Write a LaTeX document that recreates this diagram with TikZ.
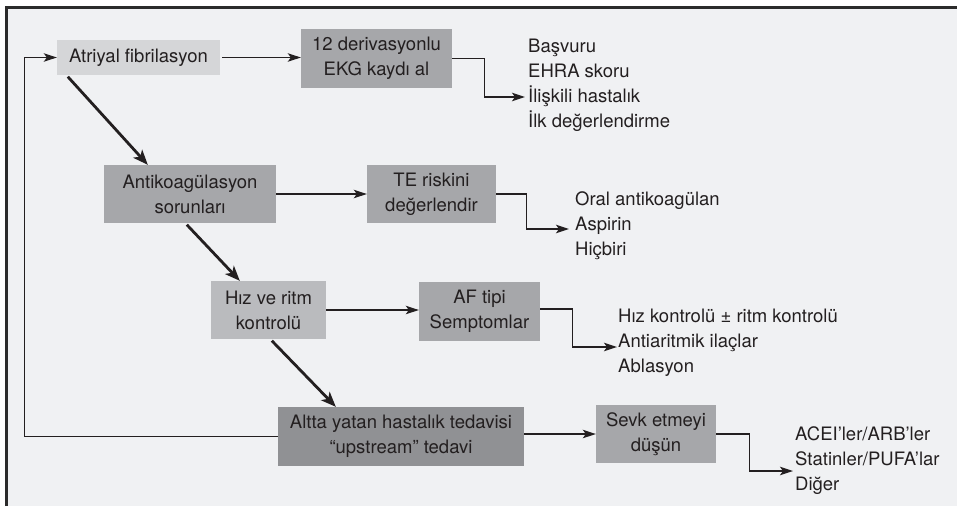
\documentclass[tikz,border=0pt]{standalone}
\usepackage{fontspec}
\setmainfont{TeX Gyre Heros}
\usetikzlibrary{arrows.meta,calc}

\definecolor{panel}{HTML}{F0F1F3}
\definecolor{frameline}{HTML}{2B2B2B}
\definecolor{ink}{HTML}{231F20}
\definecolor{boxlight}{HTML}{D5D6D8}
\definecolor{boxmid}{HTML}{BABBBE}
\definecolor{boxgray}{HTML}{A6A7AA}
\definecolor{boxdark}{HTML}{909194}

\begin{document}
\begin{tikzpicture}[x=1pt,y=-1pt,
  every node/.style={font=\fontsize{18.5}{25}\selectfont, text=ink},
  box/.style={fill=#1, inner sep=0pt, align=center, anchor=center},
  list/.style={inner sep=0pt, align=left, anchor=west},
  flow/.style={draw=ink, line width=1.3pt, -{Stealth[length=13pt,width=8.5pt,inset=3pt]}},
  mainflow/.style={draw=ink, line width=2.8pt, -{Stealth[length=15pt,width=12pt,inset=4pt]}},
]
% page and panel
\useasboundingbox (0,0) rectangle (957,506);
\fill[white] (0,0) rectangle (957,506);
\fill[panel] (6.5,7.3) rectangle (957,506);
\draw[frameline, line width=2.7pt] (6.5,506) -- (6.5,7.3) -- (957,7.3);

% boxes
\node[box=boxlight, minimum width=163pt, minimum height=35pt] (af) at (138.5,57.5) {Atriyal fibrilasyon};
\node[box=boxgray, minimum width=151pt, minimum height=59pt] (ekg) at (376.5,58.5) {12 derivasyonlu\\EKG kaydı al};
\node[box=boxgray, minimum width=172pt, minimum height=58pt] (anti) at (190,194) {Antikoagülasyon\\sorunları};
\node[box=boxgray, minimum width=129pt, minimum height=58pt] (te) at (431.5,194) {TE riskini\\değerlendir};
\node[box=boxmid, minimum width=115pt, minimum height=58pt] (hiz) at (268.5,310) {Hız ve ritm\\kontrolü};
\node[box=boxgray, minimum width=121pt, minimum height=59pt] (aftip) at (479.5,311.5) {AF tipi\\Semptomlar};
\node[box=boxdark, minimum width=246pt, minimum height=59pt] (altta) at (401,436.5) {Altta yatan hastalık tedavisi\\“upstream” tedavi};
\node[box=boxgray, minimum width=120pt, minimum height=58pt] (sevk) at (656,434) {Sevk etmeyi\\düşün};

% option lists
\node[list] (list1) at (528,85.5) {Başvuru\\EHRA skoru\\İlişkili hastalık\\İlk değerlendirme};
\node[list] (list2) at (575,225.5) {Oral antikoagülan\\Aspirin\\Hiçbiri};
\node[list] (list3) at (618,343) {Hız kontrolü ± ritm kontrolü\\Antiaritmik ilaçlar\\Ablasyon};
\node[list] (list4) at (795,461) {ACEI’ler/ARB’ler\\Statinler/PUFA’lar\\Diğer};

\coordinate (l1in) at (525,97);
\coordinate (l2in) at (569,229);
\coordinate (l3in) at (617,347);
\coordinate (l4in) at (793,471);

% horizontal steps
\draw[flow] ($(af.east)+(2,0)$) -- (af.east -| ekg.west);
\draw[flow] (ekg.east) -- ++(32,0) |- (l1in);
\draw[flow] (anti.east) -- (te.west);
\draw[flow] (te.east) -- ++(30,0) |- (l2in);
\draw[flow] (hiz.east) -- (hiz.east -| aftip.west);
\draw[flow] ($(aftip.east)+(0,-2.5)$) -- ++(32,0) |- (l3in);
\draw[flow] (sevk.west -| altta.east) -- (sevk.west);
\draw[flow] (sevk.east) -- ++(33,0) |- (l4in);

% main diagonal chain
\draw[mainflow] ($(af.south west)+(11,1.5)$) -- ($(anti.north west)+(44,0)$);
\draw[mainflow] ($(anti.south west)+(83,1.5)$) -- ($(hiz.north west)+(29,0)$);
\draw[mainflow] ($(hiz.south west)+(61,1.5)$) -- ($(altta.north west)+(58,0)$);

% feedback loop
\draw[flow] (altta.west) -- ++(-253,0) |- (af.west);
\end{tikzpicture}
\end{document}
